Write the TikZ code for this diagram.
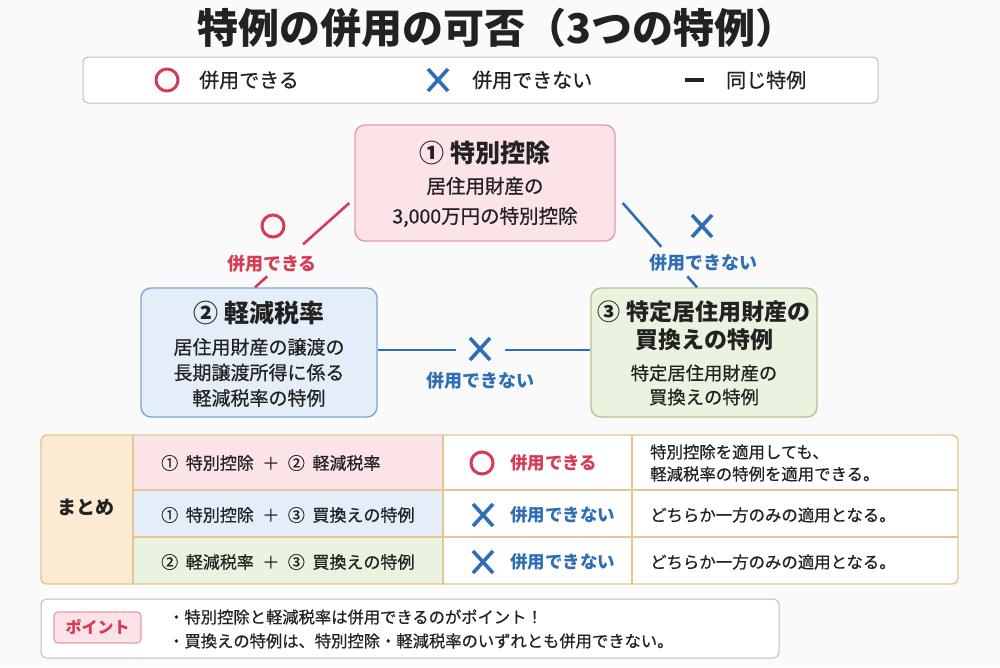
\documentclass[tikz,border=0pt]{standalone}
\usepackage{fontspec}
\setmainfont{Noto Sans CJK JP}
\newfontfamily\med[FakeBold=0.6]{Noto Sans CJK JP}
\usetikzlibrary{calc}
\definecolor{bg}{HTML}{FAFAFA}
\definecolor{ink}{HTML}{222222}
\definecolor{okred}{HTML}{D63A55}
\definecolor{ngblue}{HTML}{2F6EB5}
\definecolor{pinkfill}{HTML}{FBE3E8}
\definecolor{pinkline}{HTML}{E79AAA}
\definecolor{bluefill}{HTML}{E4EEF8}
\definecolor{blueline}{HTML}{7EA6D4}
\definecolor{greenfill}{HTML}{EAF3E0}
\definecolor{greenline}{HTML}{A9C98C}
\definecolor{peach}{HTML}{FCEBD2}
\definecolor{tan}{HTML}{E5C591}
\definecolor{graybox}{HTML}{BDBDBD}
\tikzset{
  boxnode/.style={draw, line width=1.4pt, rounded corners=10pt, inner sep=0pt},
  ttl/.style={text=ink, font=\fontsize{25}{28}\selectfont\bfseries, align=center, inner sep=0pt},
  body/.style={text=ink, align=center, inner sep=0pt},
  okline/.style={okred, line width=2.6pt},
  ngline/.style={ngblue, line width=2.6pt},
  lbl/.style={inner sep=0pt, font=\fontsize{18}{20}\selectfont\bfseries},
  xmark/.pic={\draw[ngblue, line width=3.6pt] (-10,-11)--(10,11) (-10,11)--(10,-11);},
  omark/.pic={\draw[okred, line width=3pt] (0,0) circle (11);},
  cell/.style={text=ink, inner sep=0pt, font=\med\fontsize{17}{22}\selectfont, anchor=west, align=left},
  leg/.style={text=ink, anchor=west, inner sep=0pt, font=\med\fontsize{20}{22}\selectfont},
}
\begin{document}
\begin{tikzpicture}[x=1pt,y=-1pt]
\fill[bg] (0,0) rectangle (1000,667);
\useasboundingbox (0,0) rectangle (1000,667);

% title
\node[text=ink, inner sep=0pt, font=\fontsize{41}{46}\selectfont\bfseries] (title) at (497,28) {特例の併用の可否（3つの特例）};

% legend
\node[draw=graybox, line width=1pt, fill=white, rounded corners=5pt, minimum width=795, minimum height=46, inner sep=0pt] (legend) at (480.5,80) {};
\pic at (167,80) {omark};
\node[leg] (lg1) at (199,80) {併用できる};
\pic at (438,80) {xmark};
\node[leg] (lg2) at (472,80) {併用できない};
\draw[ink, line width=3.6pt] (685,80) -- (704,80);
\node[leg] (lg3) at (726,80) {同じ特例};

% boxes
\node[boxnode, draw=pinkline, fill=pinkfill, minimum width=260, minimum height=116] (n1) at (485,183) {};
\node[boxnode, draw=blueline, fill=bluefill, minimum width=236, minimum height=129] (n2) at (259,352.5) {};
\node[boxnode, draw=greenline, fill=greenfill, minimum width=226, minimum height=129] (n3) at (704,352.5) {};

\node[ttl] (t1) at (485,153) {① 特別控除};
\node[body, font=\med\fontsize{19.5}{30}\selectfont] (b1) at (485,202) {居住用財産の\\3,000万円の特別控除};
\node[ttl] (t2) at (259,313) {② 軽減税率};
\node[body, font=\med\fontsize{19}{25.5}\selectfont] (b2) at (259,372.5) {居住用財産の譲渡の\\長期譲渡所得に係る\\軽減税率の特例};
\node[ttl, font=\fontsize{23}{28}\selectfont\bfseries] (t3) at (704,326) {③ 特定居住用財産の\\買換えの特例};
\node[body, font=\med\fontsize{18.3}{24}\selectfont] (b3) at (704,385) {特定居住用財産の\\買換えの特例};

% connector 1-2 (ok)
\coordinate (r1) at ($(n1.west)+(-5,20)$);
\coordinate (r2) at ($(n2.north)+(-4,0)$);
\draw[okline] (r1) -- ($(r1)!0.49!(r2)$);
\draw[okline] ($(r1)!0.87!(r2)$) -- (r2);
\pic at (273,226) {omark};
\node[lbl, text=okred] (l12) at (272,264) {併用できる};

% connector 1-3 (ng)
\coordinate (s1) at ($(n1.east)+(7,20)$);
\coordinate (s2) at ($(n3.north)+(-7,0)$);
\draw[ngline] (s1) -- ($(s1)!0.52!(s2)$);
\draw[ngline] ($(s1)!0.87!(s2)$) -- (s2);
\pic at (702,226) {xmark};
\node[lbl, text=ngblue] (l13) at (703,263) {併用できない};

% connector 2-3 (ng)
\coordinate (h1) at (456,350);
\coordinate (h2) at (505,350);
\draw[ngline] (n2.east |- h1) -- (h1);
\draw[ngline] (h2) -- (n3.west |- h2);
\pic at (480,349) {xmark};
\node[lbl, text=ngblue] (l23) at (480,381) {併用できない};

% summary table
\begin{scope}
\clip[rounded corners=6pt] (41,435) rectangle (958,584);
\fill[white] (41,435) rectangle (958,584);
\fill[peach] (41,435) rectangle (133,584);
\fill[pinkfill] (133,435) rectangle (443,490);
\fill[bluefill] (133,490) rectangle (443,537);
\fill[greenfill] (133,537) rectangle (443,584);
\end{scope}
\draw[tan, line width=1.2pt] (133,435) -- (133,584) (443,435) -- (443,584) (632,435) -- (632,584)
  (133,490) -- (958,490) (133,537) -- (958,537);
\draw[tan, line width=1.4pt, rounded corners=6pt] (41,435) rectangle (958,584);

\node[text=ink, inner sep=0pt, font=\fontsize{19}{22}\selectfont\bfseries] (sum) at (86,507) {まとめ};

\node[cell] (c11) at (161,463) {①\hspace{0.45em}特別控除\hspace{0.5em}＋\hspace{0.5em}②\hspace{0.45em}軽減税率};
\node[cell] (c21) at (161,515) {①\hspace{0.45em}特別控除\hspace{0.5em}＋\hspace{0.5em}③\hspace{0.45em}買換えの特例};
\node[cell] (c31) at (161,562) {②\hspace{0.45em}軽減税率\hspace{0.5em}＋\hspace{0.5em}③\hspace{0.45em}買換えの特例};

\pic at (482,463) {omark};
\node[cell, text=okred, font=\fontsize{17.5}{22}\selectfont\bfseries] (c12) at (510,463) {併用できる};
\pic at (483,515) {xmark};
\node[cell, text=ngblue, font=\fontsize{17.5}{22}\selectfont\bfseries] (c22) at (510,515) {併用できない};
\pic at (483,562) {xmark};
\node[cell, text=ngblue, font=\fontsize{17.5}{22}\selectfont\bfseries] (c32) at (510,562) {併用できない};

\node[cell, font=\med\fontsize{16.4}{22}\selectfont] (c13) at (650,463) {特別控除を適用しても、\\軽減税率の特例を適用できる。};
\node[cell, font=\med\fontsize{16.4}{22}\selectfont] (c23) at (650,515) {どちらか一方のみの適用となる。};
\node[cell, font=\med\fontsize{16.4}{22}\selectfont] (c33) at (650,562) {どちらか一方のみの適用となる。};

% point box
\node[draw=graybox, line width=1pt, fill=white, rounded corners=6pt, minimum width=738, minimum height=59, inner sep=0pt] (pbox) at (410,628.5) {};
\node[draw=pinkline, line width=1.2pt, fill=pinkfill, rounded corners=4pt, minimum width=87, minimum height=31, inner sep=0pt, text=okred, font=\fontsize{16}{18}\selectfont\bfseries] (tag) at (97.5,627.5) {ポイント};
\node[cell, font=\med\fontsize{16.3}{20}\selectfont] (p1) at (168,617) {・特別控除と軽減税率は併用できるのがポイント！};
\node[cell, font=\med\fontsize{16.3}{20}\selectfont] (p2) at (168,641) {・買換えの特例は、特別控除・軽減税率のいずれとも併用できない。};
\end{tikzpicture}
\end{document}
